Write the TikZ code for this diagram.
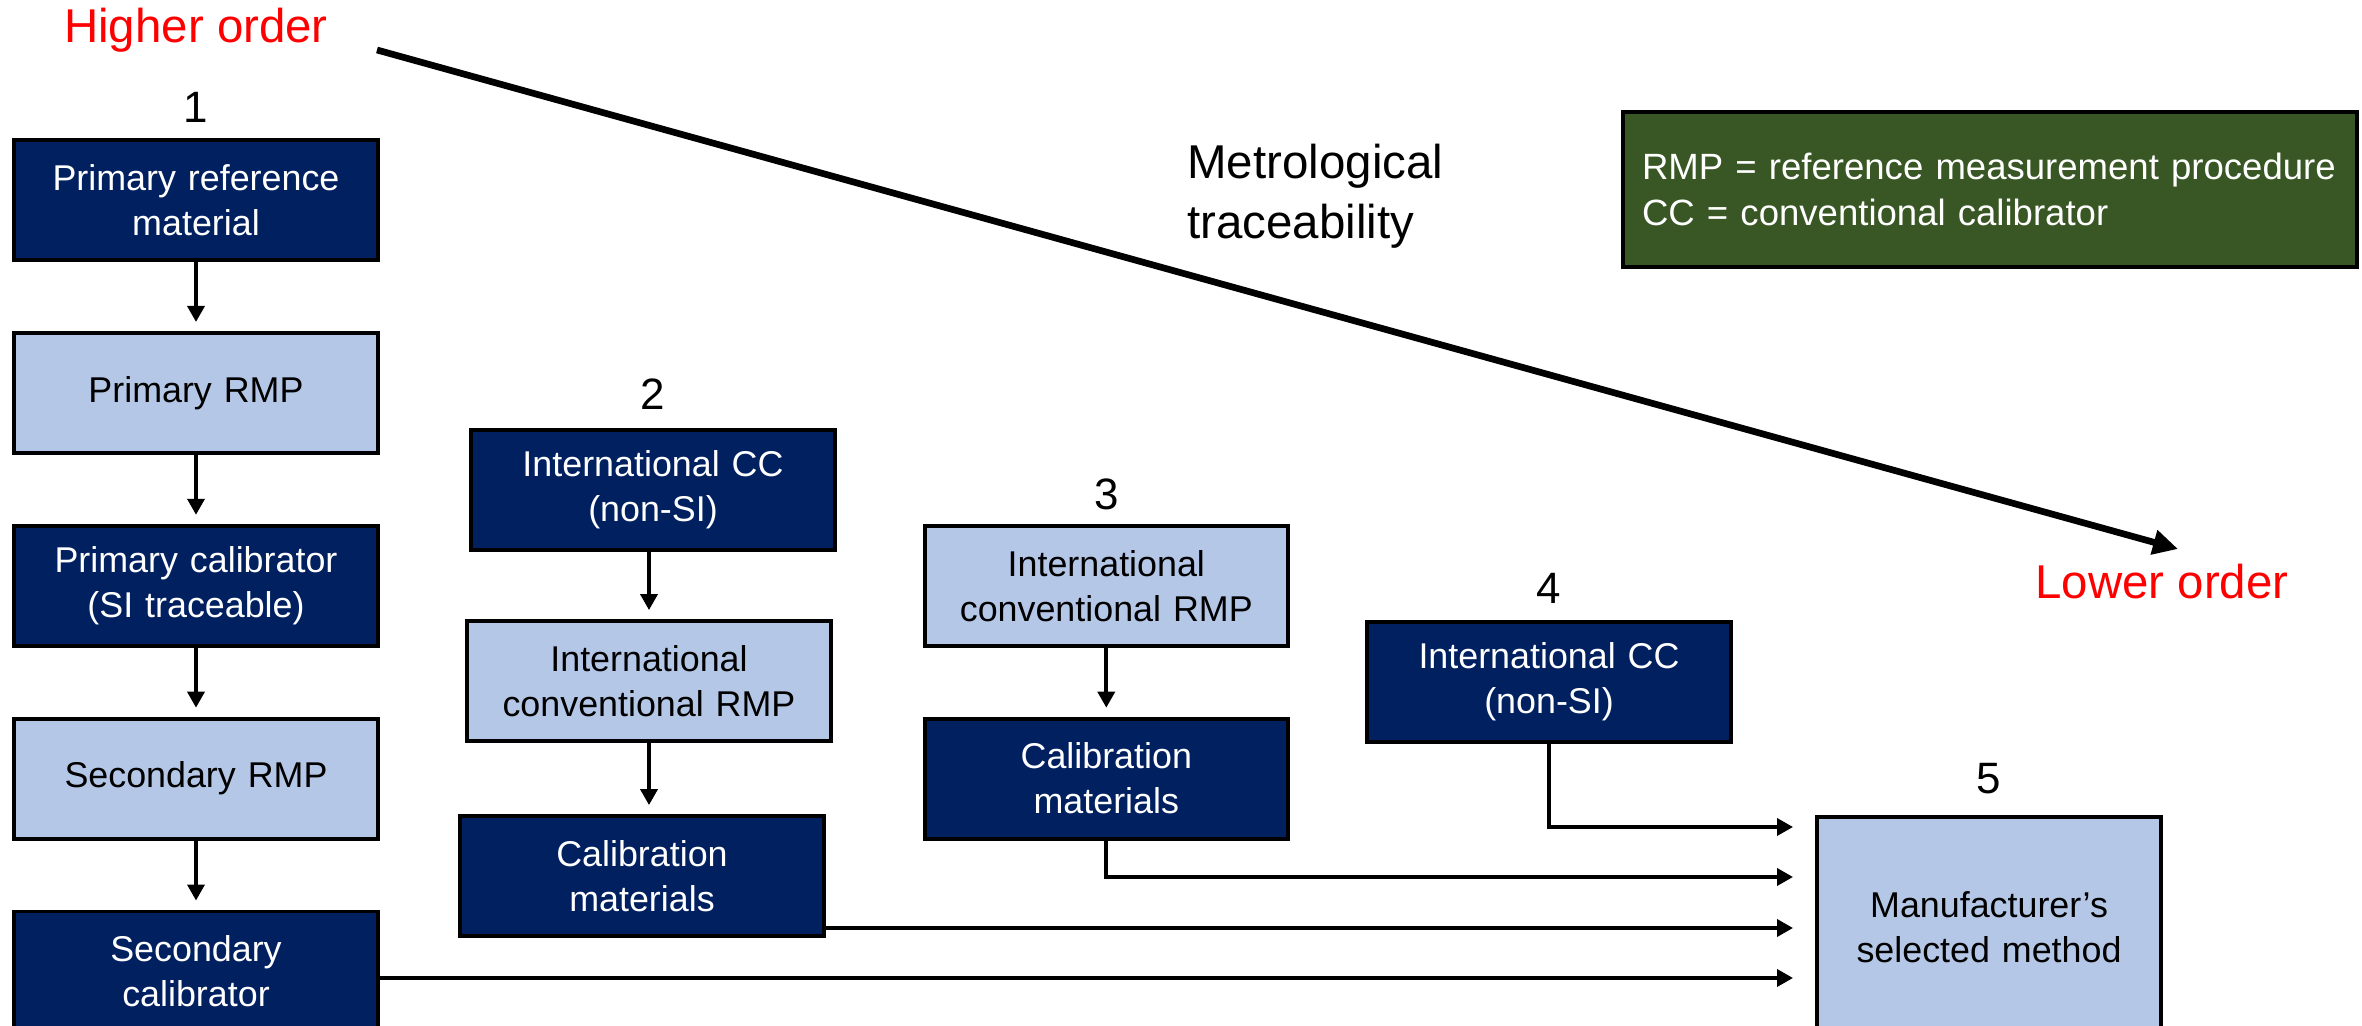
\documentclass[tikz,border=0pt]{standalone}
\usepackage{fontspec}
\setmainfont{Liberation Sans}
\usetikzlibrary{positioning,arrows.meta}

\definecolor{donkerblauw}{RGB}{0,32,96}
\definecolor{lichtblauw}{RGB}{180,199,231}
\definecolor{legendagroen}{RGB}{57,87,36}

\begin{document}
\begin{tikzpicture}[>={Triangle[length=0.16cm,width=0.17cm]}, scale=1,
    box/.style={draw=black, line width=1.1pt, minimum width=3.6cm, minimum height=1.2cm,
      text width=3.4cm, align=center, font=\fontsize{10.2}{12.8}\selectfont},
    darkbox/.style={box, fill=donkerblauw, text=white},
    lightbox/.style={box, fill=lichtblauw, text=black},
    nummer/.style={inner sep=0pt, font=\fontsize{12.5}{15}\selectfont},
    groot/.style={font=\fontsize{13.5}{17}\selectfont},
    pijl/.style={->, line width=1.05pt, shorten >=0.09cm}]
  \useasboundingbox (0,0) rectangle (23.62,10.25);

  % hoger en lager orde
  \node[groot, text=red] (hoger) at (1.96,9.95) {Higher order};
  \node[groot, text=red] (lager) at (21.62,4.43) {Lower order};
  \coordinate (hoog) at (3.77,9.75);
  \coordinate (laag) at (21.78,4.76);
  \draw[line width=1.9pt, -{Triangle[length=0.25cm,width=0.24cm]}] (hoog) -- (laag);
  \node[groot, anchor=west, align=left] (metro) at (11.75,8.29) {Metrological\\traceability};

  % legenda
  \node[draw=black, line width=1.1pt, fill=legendagroen, text=white, minimum height=1.55cm,
    text width=6.96cm, inner xsep=0.19cm, align=left,
    font=\fontsize{10.4}{13}\selectfont] (legenda) at (19.90,8.355)
    {RMP = reference measurement procedure\\CC = conventional calibrator};

  % kolom 1
  \node[darkbox] (prm) at (1.96,8.25) {Primary reference\\material};
  \node[lightbox, below=0.69cm of prm] (prmp) {Primary RMP};
  \node[darkbox, below=0.69cm of prmp] (pcal) {Primary calibrator\\(SI traceable)};
  \node[lightbox, below=0.69cm of pcal] (srmp) {Secondary RMP};
  \node[darkbox, below=0.69cm of srmp] (scal) {Secondary\\calibrator};
  \node[nummer, above=0.15cm of prm] (n1) {1};
  \draw[pijl] (prm) -- (prmp);
  \draw[pijl] (prmp) -- (pcal);
  \draw[pijl] (pcal) -- (srmp);
  \draw[pijl] (srmp) -- (scal);

  % kolom 2
  \node[darkbox] (icc2) at (6.53,5.35) {International CC\\(non-SI)};
  \node[lightbox] (icrmp2) at (6.49,3.44) {International\\conventional RMP};
  \node[darkbox] (calm2) at (6.42,1.49) {Calibration\\materials};
  \node[nummer, above=0.18cm of icc2] (n2) {2};
  \draw[pijl] (icrmp2.north |- icc2.south) -- (icrmp2.north);
  \draw[pijl] (icrmp2.south) -- (icrmp2.south |- calm2.north);

  % kolom 3
  \node[lightbox, right=5.43cm of pcal] (icrmp3) {International\\conventional RMP};
  \node[darkbox, below=0.69cm of icrmp3] (calm3) {Calibration\\materials};
  \node[nummer, above=0.13cm of icrmp3] (n3) {3};
  \draw[pijl] (icrmp3) -- (calm3);

  % kolom 4
  \node[darkbox] (icc4) at (15.49,3.43) {International CC\\(non-SI)};
  \node[nummer, above=0.16cm of icc4] (n4) {4};

  % methode fabrikant
  \node[lightbox, minimum width=3.4cm, minimum height=2.2cm, text width=3.2cm,
    anchor=north] (fab) at (19.89,2.10) {Manufacturer’s\\selected method};
  \node[nummer, above=0.2cm of fab] (n5) {5};

  % pijlen naar 5
  \coordinate (m1) at (17.93,1.98);
  \coordinate (m2) at (17.93,1.48);
  \coordinate (m3) at (17.93,0.97);
  \coordinate (m4) at (17.93,0.47);
  \draw[pijl, shorten >=0pt] (icc4.south) |- (m1);
  \draw[pijl, shorten >=0pt] (calm3.south) |- (m2);
  \draw[pijl, shorten >=0pt] (calm2.east |- m3) -- (m3);
  \draw[pijl, shorten >=0pt] (scal.east |- m4) -- (m4);
\end{tikzpicture}
\end{document}
